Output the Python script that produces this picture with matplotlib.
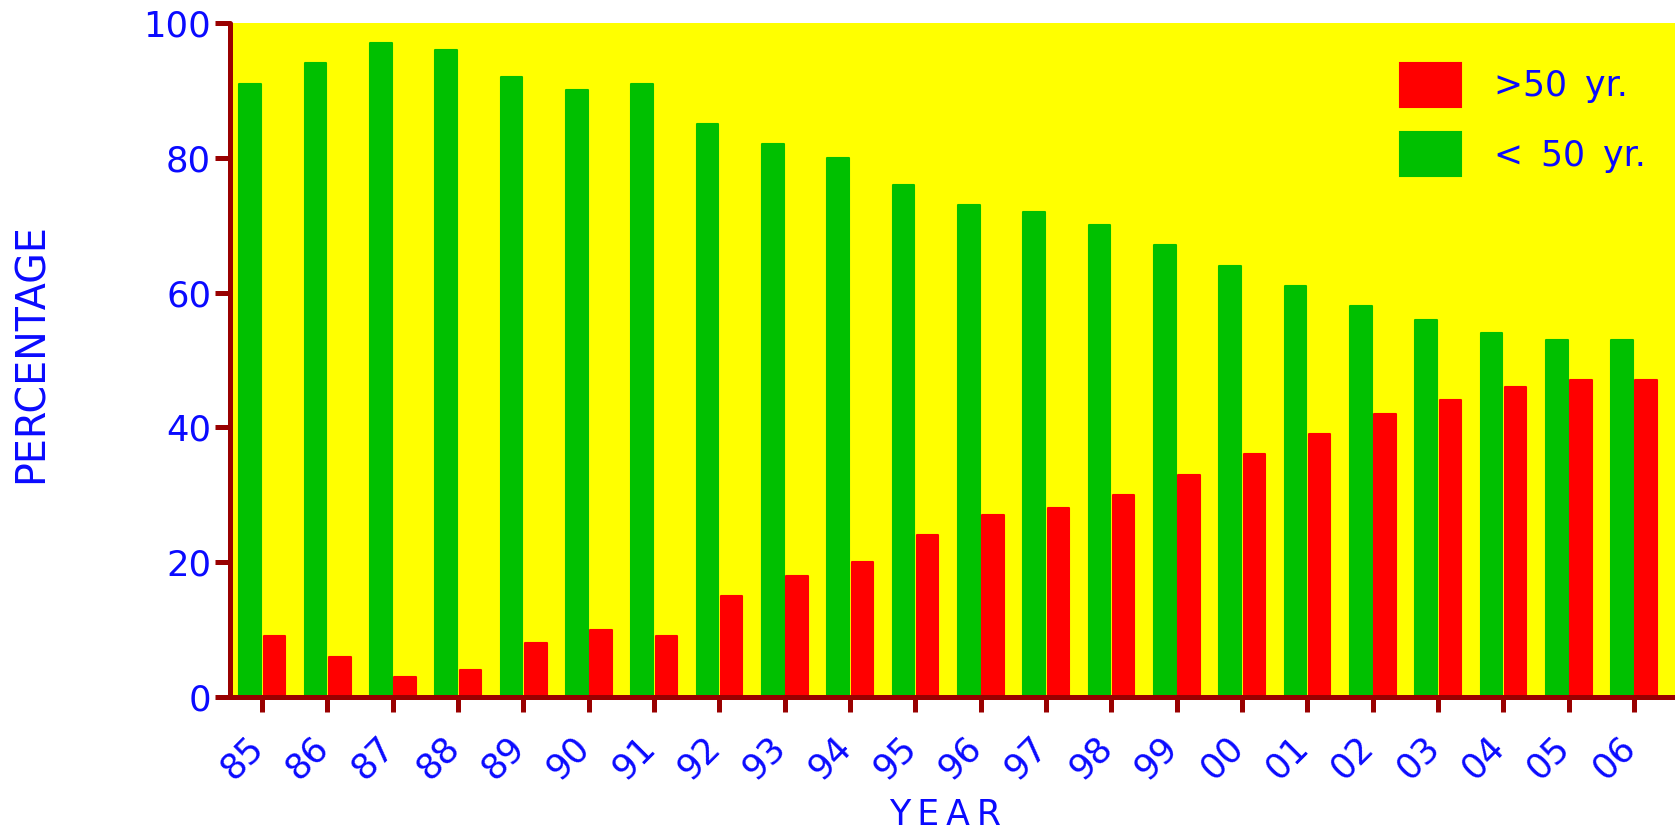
import matplotlib
matplotlib.use("Agg")
import matplotlib.pyplot as plt
import matplotlib.transforms as mtrans
import numpy as np

years = ["85", "86", "87", "88", "89", "90", "91", "92", "93", "94", "95",
         "96", "97", "98", "99", "00", "01", "02", "03", "04", "05", "06"]
under50 = [91, 94, 97, 96, 92, 90, 91, 85, 82, 80, 76, 73, 72, 70, 67, 64, 61, 58, 56, 54, 53, 53]
over50 = [9, 6, 3, 4, 8, 10, 9, 15, 18, 20, 24, 27, 28, 30, 33, 36, 39, 42, 44, 46, 47, 47]
yticks = [0, 20, 40, 60, 80, 100]

BLUE = "#0a0aff"
AXC = "#990000"
GREEN = "#00c000"
RED = "#ff0000"

plt.rcParams['font.family'] = ['DejaVu Sans']

fig = plt.figure(figsize=(16.75, 8.34), dpi=100)
ax = fig.add_axes([230/1675, 1 - 697/834, 1 - 230/1675, (697 - 23)/834])
ax.set_facecolor("#ffff00")

x = np.arange(len(years))
w = 0.33
ax.bar(x - 0.18, under50, width=w, color=GREEN, edgecolor=GREEN, linewidth=1.5,
       joinstyle='round', label="< 50 yr.", zorder=2)
ax.bar(x + 0.19, over50, width=w, color=RED, edgecolor=RED, linewidth=1.5,
       joinstyle='round', label=">50 yr.", zorder=2)

ax.set_xlim(-0.49, 21.63)
ax.set_ylim(0, 100)
ax.set_yticks(yticks)
ax.set_yticklabels([str(v) for v in yticks])
ax.set_xticks(x)
ax.set_xticklabels(years, rotation=45, ha='right', va='top')

for s in ['top', 'right']:
    ax.spines[s].set_visible(False)
for s in ['left', 'bottom']:
    ax.spines[s].set_color(AXC)
    ax.spines[s].set_linewidth(3.6)
    ax.spines[s].set_capstyle('round')
    ax.spines[s].set_zorder(3)

ax.tick_params(axis='both', colors=AXC, length=10.5, width=3.6, labelcolor=BLUE,
               labelsize=25.5, direction='out')
ax.tick_params(axis='x', pad=13)
ax.tick_params(axis='y', pad=3)
for t in ax.xaxis.get_major_ticks():
    t.tick1line.set_solid_capstyle('round')
for t in ax.yaxis.get_major_ticks():
    t.tick1line.set_solid_capstyle('round')

off = mtrans.ScaledTranslation(8/100, 0, fig.dpi_scale_trans)
for lab in ax.get_xticklabels():
    lab.set_transform(lab.get_transform() + off)

fig.text(32/1675, 1 - 353/834, "PERCENTAGE", rotation=90, ha='center', va='center',
         color=BLUE, fontsize=28.5)
fig.text(945/1675, 1 - 815/834, "Y E A R".replace(" ", "\u2009"), ha='center', va='center',
         color=BLUE, fontsize=25)

handles, labels = ax.get_legend_handles_labels()
labels = [">50\u2009 yr.", "<\u2009 50\u2009 yr."]
leg = ax.legend(handles[::-1], labels, loc='upper left',
                bbox_to_anchor=((1400 - 230)/1445, 1 - (63 - 23)/674),
                frameon=False, fontsize=25, labelcolor=BLUE,
                handlelength=1.75, handleheight=1.57, handletextpad=0.95,
                labelspacing=0.73, borderpad=0, borderaxespad=0)

fig.savefig("out.png", dpi=100, facecolor='white')
